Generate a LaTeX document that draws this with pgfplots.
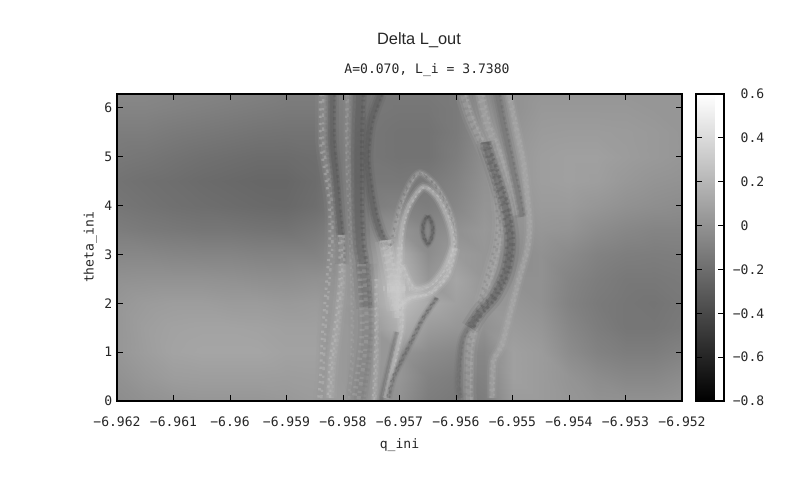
\documentclass[border=0pt]{standalone}
\usepackage{fontspec}
\setmainfont{Liberation Sans}
\setmonofont{DejaVu Sans Mono}
\usepackage{pgfplots}
\pgfplotsset{compat=1.18}

\definecolor{g85}{gray}{.33}
\definecolor{g105}{gray}{.41}
\definecolor{g125}{gray}{.49}
\definecolor{g150}{gray}{.59}
\definecolor{g175}{gray}{.69}
\definecolor{g205}{gray}{.80}

% one ribbon: soft band plus broken layers for the grainy look
% #1 band colour, #2 width, #3 grain colour, #4 points
\newcommand{\rib}[4]{%
  \addplot[no markers,smooth,line width=#2*2,draw=#1,opacity=.12] coordinates {#4};
  \addplot[no markers,smooth,line width=#2*1.3,draw=#1,opacity=.22] coordinates {#4};
  \addplot[no markers,smooth,line width=#2*.7,draw=#1,opacity=.3] coordinates {#4};
  \addplot[no markers,smooth,line width=#2*.36,draw=#3,opacity=.35,xshift=#2*-.34,dash pattern=on 1.7pt off 3.7pt] coordinates {#4};
  \addplot[no markers,smooth,line width=#2*.36,draw=#1,opacity=.4,xshift=#2*.34,dash pattern=on 2.3pt off 1.9pt on 1.4pt off 3.1pt] coordinates {#4};
  \addplot[no markers,smooth,line width=#2*.3,draw=#3,opacity=.3,dash pattern=on 1.6pt off 2.3pt on 2.6pt off 4.1pt] coordinates {#4};
}

\begin{document}
\begin{tikzpicture}[x=1pt,y=1pt]
\path[use as bounding box] (0,0) rectangle (600,371.25);
\begin{axis}[
    at={(87.75pt,70.5pt)}, anchor=south west,
    scale only axis,
    width=423.75pt, height=230.25pt,
    xmin=-6.962, xmax=-6.952,
    ymin=0, ymax=6.283,
    xtick={-6.962,-6.961,-6.96,-6.959,-6.958,-6.957,-6.956,-6.955,-6.954,-6.953,-6.952},
    xticklabels={−6.962,−6.961,−6.96,−6.959,−6.958,−6.957,−6.956,−6.955,−6.954,−6.953,−6.952},
    ytick={0,1,2,3,4,5,6},
    yticklabels={0,1,2,3,4,5,6},
    scaled x ticks=false,
    tick align=inside, tick pos=both,
    major tick length=4.5pt,
    tick style={black,line width=.75pt},
    axis line style={line width=.8pt},
    tick label style={font=\ttfamily\fontsize{9.8}{10}\selectfont,color=black!85},
    xticklabel style={yshift=-8pt},
    xlabel={q\_ini},
    ylabel={theta\_ini},
    label style={font=\ttfamily\fontsize{9.8}{10}\selectfont,color=black!85},
    xlabel style={yshift=-2pt},
    ylabel style={yshift=-1pt},
    axis on top,
    colormap/blackwhite,
    point meta min=-0.8, point meta max=0.6,
    colorbar,
    colorbar style={
        at={(1.0248,0)}, anchor=south west,
        width=21pt,
        ytick={-0.8,-0.6,-0.4,-0.2,0,0.2,0.4,0.6},
        yticklabels={\llap{−}0.8,\llap{−}0.6,\llap{−}0.4,\llap{−}0.2,0,0.2,0.4,0.6},
        tick align=inside, tick pos=both,
        yticklabel pos=right,
        major tick length=4.5pt,
        tick style={black,line width=.75pt},
        axis line style={line width=.8pt},
        yticklabel style={font=\ttfamily\fontsize{9.8}{10}\selectfont,color=black!85,xshift=9pt},
    },
]
% background, each line one scan at constant theta_ini
\addplot[surf,shader=interp,mesh/cols=21,mesh/rows=14,point meta=explicit]
  table[x=q,y=th,meta=v,row sep=\\]{
q th v\\
-6.962 0 -.03\\ -6.9615 0 -.004\\ -6.961 0 .013\\ -6.9605 0 .024\\ -6.96 0 .024\\ -6.9595 0 .024\\ -6.959 0 .034\\ -6.9585 0 .051\\ -6.958 0 .05\\ -6.9575 0 .024\\ -6.957 0 -.004\\ -6.9565 0 -.114\\ -6.956 0 -.141\\ -6.9555 0 -.114\\ -6.955 0 .051\\ -6.9545 0 .051\\ -6.954 0 .024\\ -6.9535 0 .002\\ -6.953 0 -.004\\ -6.9525 0 -.004\\ -6.952 0 .013\\
-6.962 .5 -.004\\ -6.9615 .5 .034\\ -6.961 .5 .062\\ -6.9605 .5 .067\\ -6.96 .5 .067\\ -6.9595 .5 .067\\ -6.959 .5 .062\\ -6.9585 .5 .067\\ -6.958 .5 .04\\ -6.9575 .5 .02\\ -6.957 .5 .024\\ -6.9565 .5 -.086\\ -6.956 .5 -.114\\ -6.9555 .5 -.086\\ -6.955 .5 .078\\ -6.9545 .5 .051\\ -6.954 .5 .013\\ -6.9535 .5 -.031\\ -6.953 .5 -.059\\ -6.9525 .5 -.059\\ -6.952 .5 -.031\\
-6.962 1 .024\\ -6.9615 1 .062\\ -6.961 1 .095\\ -6.9605 1 .106\\ -6.96 1 .106\\ -6.9595 1 .106\\ -6.959 1 .089\\ -6.9585 1 .089\\ -6.958 1 .04\\ -6.9575 1 .03\\ -6.957 1 .024\\ -6.9565 1 -.031\\ -6.956 1 -.059\\ -6.9555 1 -.059\\ -6.955 1 .078\\ -6.9545 1 .051\\ -6.954 1 -.031\\ -6.9535 1 -.086\\ -6.953 1 -.114\\ -6.9525 1 -.114\\ -6.952 1 -.086\\
-6.962 1.5 .024\\ -6.9615 1.5 .067\\ -6.961 1.5 .089\\ -6.9605 1.5 .095\\ -6.96 1.5 .095\\ -6.9595 1.5 .089\\ -6.959 1.5 .078\\ -6.9585 1.5 .078\\ -6.958 1.5 .04\\ -6.9575 1.5 .03\\ -6.957 1.5 .161\\ -6.9565 1.5 .051\\ -6.956 1.5 .024\\ -6.9555 1.5 -.004\\ -6.955 1.5 .051\\ -6.9545 1.5 .024\\ -6.954 1.5 -.059\\ -6.9535 1.5 -.114\\ -6.953 1.5 -.152\\ -6.9525 1.5 -.152\\ -6.952 1.5 -.13\\
-6.962 2 .024\\ -6.9615 2 .051\\ -6.961 2 .062\\ -6.9605 2 .062\\ -6.96 2 .051\\ -6.9595 2 .051\\ -6.959 2 .04\\ -6.9585 2 .051\\ -6.958 2 .03\\ -6.9575 2 .09\\ -6.957 2 .243\\ -6.9565 2 .133\\ -6.956 2 .078\\ -6.9555 2 .024\\ -6.955 2 .024\\ -6.9545 2 -.004\\ -6.954 2 -.086\\ -6.9535 2 -.13\\ -6.953 2 -.152\\ -6.9525 2 -.163\\ -6.952 2 -.141\\
-6.962 2.5 -.004\\ -6.9615 2.5 .002\\ -6.961 2.5 .002\\ -6.9605 2.5 .002\\ -6.96 2.5 -.004\\ -6.9595 2.5 -.015\\ -6.959 2.5 -.02\\ -6.9585 2.5 -.004\\ -6.958 2.5 .01\\ -6.9575 2.5 .106\\ -6.957 2.5 .216\\ -6.9565 2.5 .024\\ -6.956 2.5 .106\\ -6.9555 2.5 .024\\ -6.955 2.5 -.004\\ -6.9545 2.5 -.004\\ -6.954 2.5 -.075\\ -6.9535 2.5 -.114\\ -6.953 2.5 -.141\\ -6.9525 2.5 -.141\\ -6.952 2.5 -.13\\
-6.962 3 -.059\\ -6.9615 3 -.059\\ -6.961 3 -.07\\ -6.9605 3 -.075\\ -6.96 3 -.075\\ -6.9595 3 -.086\\ -6.959 3 -.086\\ -6.9585 3 -.086\\ -6.958 3 -.031\\ -6.9575 3 .024\\ -6.957 3 .161\\ -6.9565 3 -.031\\ -6.956 3 .051\\ -6.9555 3 .024\\ -6.955 3 -.031\\ -6.9545 3 -.004\\ -6.954 3 -.042\\ -6.9535 3 -.086\\ -6.953 3 -.108\\ -6.9525 3 -.114\\ -6.952 3 -.108\\
-6.962 3.5 -.114\\ -6.9615 3.5 -.13\\ -6.961 3.5 -.141\\ -6.9605 3.5 -.152\\ -6.96 3.5 -.152\\ -6.9595 3.5 -.163\\ -6.959 3.5 -.169\\ -6.9585 3.5 -.141\\ -6.958 3.5 -.086\\ -6.9575 3.5 -.059\\ -6.957 3.5 .024\\ -6.9565 3.5 -.059\\ -6.956 3.5 -.004\\ -6.9555 3.5 .034\\ -6.955 3.5 -.004\\ -6.9545 3.5 .024\\ -6.954 3.5 .013\\ -6.9535 3.5 -.031\\ -6.953 3.5 -.059\\ -6.9525 3.5 -.075\\ -6.952 3.5 -.075\\
-6.962 4 -.152\\ -6.9615 4 -.169\\ -6.961 4 -.185\\ -6.9605 4 -.196\\ -6.96 4 -.207\\ -6.9595 4 -.218\\ -6.959 4 -.224\\ -6.9585 4 -.196\\ -6.958 4 -.114\\ -6.9575 4 -.114\\ -6.957 4 -.086\\ -6.9565 4 -.114\\ -6.956 4 -.059\\ -6.9555 4 .013\\ -6.955 4 .013\\ -6.9545 4 .051\\ -6.954 4 .051\\ -6.9535 4 .024\\ -6.953 4 -.004\\ -6.9525 4 -.02\\ -6.952 4 -.031\\
-6.962 4.5 -.169\\ -6.9615 4.5 -.185\\ -6.961 4.5 -.196\\ -6.9605 4.5 -.213\\ -6.96 4.5 -.224\\ -6.9595 4.5 -.235\\ -6.959 4.5 -.235\\ -6.9585 4.5 -.207\\ -6.958 4.5 -.13\\ -6.9575 4.5 -.141\\ -6.957 4.5 -.141\\ -6.9565 4.5 -.13\\ -6.956 4.5 -.086\\ -6.9555 4.5 -.004\\ -6.955 4.5 .024\\ -6.9545 4.5 .067\\ -6.954 4.5 .078\\ -6.9535 4.5 .067\\ -6.953 4.5 .034\\ -6.9525 4.5 .013\\ -6.952 4.5 .002\\
-6.962 5 -.141\\ -6.9615 5 -.152\\ -6.961 5 -.169\\ -6.9605 5 -.185\\ -6.96 5 -.196\\ -6.9595 5 -.207\\ -6.959 5 -.207\\ -6.9585 5 -.196\\ -6.958 5 -.13\\ -6.9575 5 -.152\\ -6.957 5 -.169\\ -6.9565 5 -.169\\ -6.956 5 -.114\\ -6.9555 5 -.02\\ -6.955 5 .024\\ -6.9545 5 .067\\ -6.954 5 .078\\ -6.9535 5 .078\\ -6.953 5 .056\\ -6.9525 5 .04\\ -6.952 5 .024\\
-6.962 5.5 -.114\\ -6.9615 5.5 -.114\\ -6.961 5.5 -.13\\ -6.9605 5.5 -.141\\ -6.96 5.5 -.152\\ -6.9595 5.5 -.163\\ -6.959 5.5 -.169\\ -6.9585 5.5 -.169\\ -6.958 5.5 -.114\\ -6.9575 5.5 -.152\\ -6.957 5.5 -.169\\ -6.9565 5.5 -.169\\ -6.956 5.5 -.13\\ -6.9555 5.5 -.031\\ -6.955 5.5 .013\\ -6.9545 5.5 .051\\ -6.954 5.5 .056\\ -6.9535 5.5 .056\\ -6.953 5.5 .051\\ -6.9525 5.5 .04\\ -6.952 5.5 .024\\
-6.962 6 -.075\\ -6.9615 6 -.075\\ -6.961 6 -.086\\ -6.9605 6 -.097\\ -6.96 6 -.108\\ -6.9595 6 -.119\\ -6.959 6 -.13\\ -6.9585 6 -.13\\ -6.958 6 -.097\\ -6.9575 6 -.141\\ -6.957 6 -.152\\ -6.9565 6 -.152\\ -6.956 6 -.13\\ -6.9555 6 -.042\\ -6.955 6 -.004\\ -6.9545 6 .034\\ -6.954 6 .034\\ -6.9535 6 .034\\ -6.953 6 .034\\ -6.9525 6 .024\\ -6.952 6 .024\\
-6.962 6.283 -.059\\ -6.9615 6.283 -.059\\ -6.961 6.283 -.07\\ -6.9605 6.283 -.075\\ -6.96 6.283 -.086\\ -6.9595 6.283 -.097\\ -6.959 6.283 -.114\\ -6.9585 6.283 -.114\\ -6.958 6.283 -.086\\ -6.9575 6.283 -.141\\ -6.957 6.283 -.141\\ -6.9565 6.283 -.141\\ -6.956 6.283 -.13\\ -6.9555 6.283 -.059\\ -6.955 6.283 -.004\\ -6.9545 6.283 .024\\ -6.954 6.283 .024\\ -6.9535 6.283 .024\\ -6.953 6.283 .024\\ -6.9525 6.283 .024\\ -6.952 6.283 .024\\
};

% left group
\rib{g150}{6pt}{g205}{(-6.95835,6.283)(-6.95835,5.3)(-6.95827,4.67)(-6.95819,3.97)(-6.95819,3.15)(-6.95823,2.6)(-6.95832,1.3)(-6.95835,.47)(-6.95839,0)}
\rib{g85}{5pt}{g105}{(-6.95819,6.283)(-6.95819,5.34)(-6.95814,4.67)(-6.95809,3.97)(-6.95802,3.15)(-6.95802,2.8)}
\rib{g175}{5pt}{g205}{(-6.95803,3.4)(-6.95802,2.52)(-6.95811,1.49)(-6.95819,.80)(-6.95823,.06)}
\rib{g150}{4pt}{g175}{(-6.95791,6.283)(-6.95791,5)(-6.95787,3.9)(-6.95782,2.4)(-6.95782,1)(-6.95787,0)}
\rib{g85}{8pt}{g105}{(-6.9577,6.283)(-6.95773,5.3)(-6.95773,4)(-6.9577,3.2)(-6.95766,2.9)(-6.95761,2.3)(-6.95758,1.9)}
\rib{g125}{10pt}{g175}{(-6.95763,2.8)(-6.95761,2.3)(-6.95758,1.6)(-6.95761,1)(-6.95773,0)}
\rib{g85}{5pt}{g105}{(-6.95734,6.283)(-6.95752,5.69)(-6.95758,4.99)(-6.95752,4.32)(-6.95743,3.77)(-6.95731,3.36)(-6.95717,3.15)}
\rib{g175}{3.5pt}{g205}{(-6.9574,2.5)(-6.95741,1)(-6.95745,0)}

% wedge and tails
\rib{g205}{8pt}{g205}{(-6.95725,3.29)(-6.95713,2.52)(-6.95704,1.86)}
\rib{g205}{4pt}{g205}{(-6.95699,3.15)(-6.95703,2.3)(-6.95704,1.7)}
\rib{g205}{10pt}{g205}{(-6.95722,2.3)(-6.9569,2.3)}
\rib{g105}{3pt}{g125}{(-6.95704,1.41)(-6.95717,.8)(-6.95733,0)}
\rib{g205}{3.5pt}{g175}{(-6.95697,2.03)(-6.95697,1.49)(-6.9571,.8)(-6.95724,.06)}
\rib{g105}{3pt}{g85}{(-6.95634,2.11)(-6.95658,1.7)(-6.95676,1.29)(-6.95694,.88)(-6.95711,.47)(-6.9572,.06)}
\rib{g205}{4pt}{g205}{(-6.95602,3.13)(-6.95616,2.58)(-6.95646,2.21)(-6.95681,2.11)(-6.95699,1.96)}

% island
\rib{g175}{3pt}{g105}{(-6.95711,3.36)(-6.95699,3.97)(-6.95681,4.46)(-6.95664,4.67)(-6.95641,4.48)(-6.95623,4.18)(-6.95609,3.81)(-6.95602,3.44)(-6.95602,3.13)}
\rib{g205}{3.5pt}{g175}{(-6.95699,3.15)(-6.95694,3.64)(-6.95681,4.05)(-6.95658,4.38)(-6.95634,4.18)(-6.95616,3.77)(-6.95607,3.4)(-6.95607,3.13)(-6.95623,2.68)(-6.95646,2.37)(-6.95676,2.31)(-6.95696,2.78)}
\rib{g85}{2.6pt}{g85}{(-6.9565,3.79)(-6.95643,3.65)(-6.95641,3.5)(-6.95643,3.35)(-6.9565,3.21)(-6.95657,3.35)(-6.95659,3.5)(-6.95657,3.65)(-6.9565,3.79)}

% right group
\rib{g175}{6pt}{g125}{(-6.95588,6.283)(-6.95575,5.81)(-6.95557,5.34)(-6.9554,4.87)(-6.95527,4.32)(-6.95522,3.64)(-6.95527,3.15)(-6.9554,2.6)(-6.95557,1.9)(-6.95575,1.15)(-6.95578,.27)(-6.95577,0)}
\rib{g175}{6pt}{g175}{(-6.95557,6.283)(-6.95545,5.69)(-6.95522,4.99)(-6.95504,4.32)(-6.95495,3.8)}
\rib{g105}{5pt}{g125}{(-6.95527,6.283)(-6.95517,5.69)(-6.95504,4.99)(-6.95492,4.32)(-6.95483,3.77)}
\rib{g85}{7pt}{g85}{(-6.95548,5.3)(-6.95543,5.08)(-6.95527,4.52)(-6.95513,3.97)(-6.95504,3.29)(-6.95511,2.68)(-6.95531,2.17)(-6.95557,1.82)(-6.95575,1.5)}
\rib{g105}{3.5pt}{g125}{(-6.95557,1.82)(-6.95588,1.29)(-6.95596,.47)(-6.95593,.06)}
\rib{g175}{4pt}{g175}{(-6.95506,6.283)(-6.95494,5.6)(-6.95481,4.9)(-6.95474,4.2)(-6.9547,3.6)(-6.95474,3.1)(-6.95488,2.52)(-6.95504,1.82)(-6.95519,1.15)(-6.95534,.8)(-6.95536,.06)}

\end{axis}
\node[font=\fontsize{12.3}{14}\selectfont,color=black!85] at (314.25,341) {Delta L\_out};
\node[font=\ttfamily\fontsize{9.8}{10}\selectfont,color=black!85] at (320.25,319) {A=0.070, L\_i = 3.7380};
\end{tikzpicture}
\end{document}
